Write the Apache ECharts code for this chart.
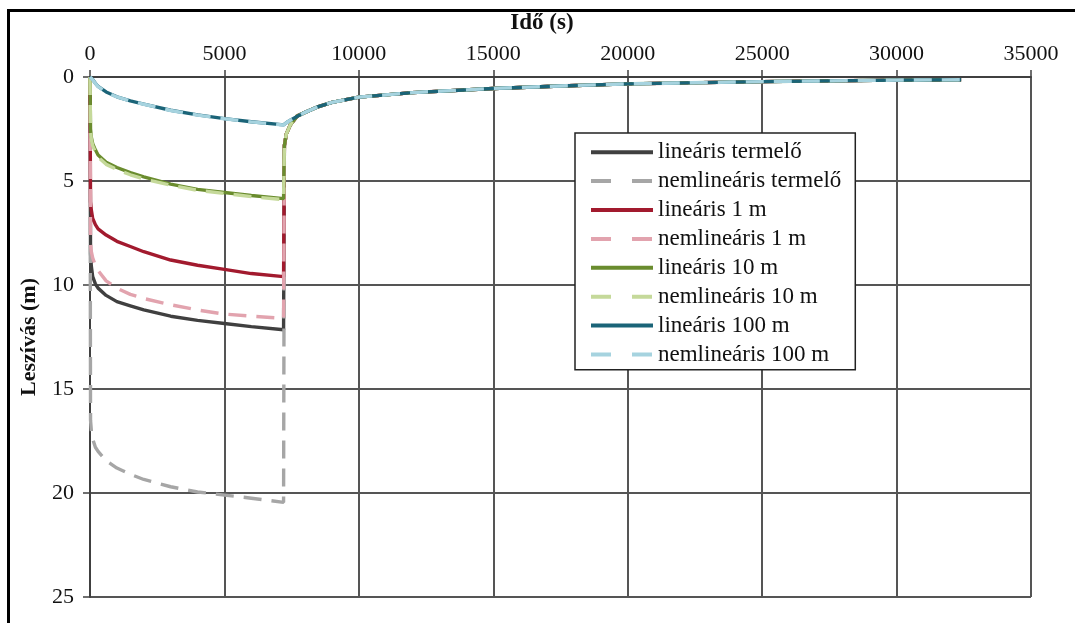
<!DOCTYPE html>
<html>
<head>
<meta charset="utf-8">
<script src="https://cdn.jsdelivr.net/npm/echarts@6/dist/echarts.min.js"></script>
<style>
html,body{margin:0;padding:0;background:#fff;}
#chart{width:1075px;height:623px;}
</style>
</head>
<body>
<div id="chart"></div>
<script>
// Time (s)
var times = [0, 20, 50, 100, 200, 300, 600, 1000, 1500, 2000, 3000, 4000, 5000, 6000, 7200,
             7230, 7300, 7450, 7700, 8000, 8500, 9000, 10000, 12000, 15000, 17500, 20000, 25000, 30000, 32400];

// Drawdown (m)
var linTermelo   = [0, 8.5, 9.1, 9.6, 9.95, 10.15, 10.5, 10.8, 11.0, 11.2, 11.5, 11.7, 11.85, 12.0, 12.15,
                    3.3, 2.75, 2.3, 1.88, 1.7, 1.42, 1.22, 0.97, 0.75, 0.55, 0.43, 0.33, 0.22, 0.15, 0.13];
var nemlinTermelo= [0, 16.5, 17.0, 17.4, 17.8, 18.0, 18.45, 18.8, 19.1, 19.35, 19.7, 19.95, 20.1, 20.25, 20.45,
                    3.3, 2.75, 2.3, 1.88, 1.7, 1.42, 1.22, 0.97, 0.75, 0.55, 0.43, 0.33, 0.22, 0.15, 0.13];
var lin1m        = [0, 6.0, 6.4, 6.8, 7.1, 7.3, 7.6, 7.9, 8.15, 8.4, 8.8, 9.05, 9.25, 9.45, 9.6,
                    3.3, 2.75, 2.3, 1.88, 1.7, 1.42, 1.22, 0.97, 0.75, 0.55, 0.43, 0.33, 0.22, 0.15, 0.13];
var nemlin1m     = [0, 8.0, 8.4, 8.7, 9.05, 9.3, 9.8, 10.15, 10.45, 10.65, 10.95, 11.2, 11.4, 11.5, 11.6,
                    3.3, 2.75, 2.3, 1.88, 1.7, 1.42, 1.22, 0.97, 0.75, 0.55, 0.43, 0.33, 0.22, 0.15, 0.13];
var lin10m       = [0, 2.5, 2.9, 3.2, 3.5, 3.75, 4.1, 4.35, 4.6, 4.8, 5.15, 5.4, 5.55, 5.7, 5.85,
                    3.3, 2.75, 2.3, 1.88, 1.7, 1.42, 1.22, 0.97, 0.75, 0.55, 0.43, 0.33, 0.22, 0.15, 0.13];
var nemlin10m    = [0, 2.6, 3.0, 3.3, 3.6, 3.85, 4.2, 4.45, 4.7, 4.9, 5.2, 5.45, 5.6, 5.75, 5.9,
                    3.3, 2.75, 2.3, 1.88, 1.7, 1.42, 1.22, 0.97, 0.75, 0.55, 0.43, 0.33, 0.22, 0.15, 0.13];
var lin100m      = [0, 0.02, 0.06, 0.12, 0.3, 0.45, 0.72, 0.95, 1.15, 1.3, 1.6, 1.82, 2.0, 2.15, 2.3,
                    2.27, 2.2, 2.08, 1.9, 1.7, 1.42, 1.22, 0.97, 0.75, 0.55, 0.43, 0.33, 0.22, 0.15, 0.13];
var nemlin100m   = [0, 0.02, 0.06, 0.13, 0.31, 0.46, 0.73, 0.96, 1.16, 1.31, 1.61, 1.83, 2.01, 2.16, 2.31,
                    2.28, 2.2, 2.08, 1.9, 1.7, 1.42, 1.22, 0.97, 0.75, 0.55, 0.43, 0.33, 0.22, 0.15, 0.13];

var seriesNames = ['lineáris termelő', 'nemlineáris termelő', 'lineáris 1 m', 'nemlineáris 1 m',
                   'lineáris 10 m', 'nemlineáris 10 m', 'lineáris 100 m', 'nemlineáris 100 m'];
var seriesValues = [linTermelo, nemlinTermelo, lin1m, nemlin1m, lin10m, nemlin10m, lin100m, nemlin100m];
var seriesColors = ['#404040', '#A6A6A6', '#A21A2E', '#E2A3AE', '#6A8C2E', '#C5D99A', '#1B6478', '#A6D3DF'];
var seriesDashed = [false, true, false, true, false, true, false, true];

var FONT = '"Liberation Serif", "Times New Roman", serif';

function pairs(vals) {
  return times.map(function (t, i) { return [t, vals[i]]; });
}

var series = seriesNames.map(function (name, i) {
  return {
    name: name,
    type: 'line',
    symbol: 'none',
    silent: true,
    animation: false,
    data: pairs(seriesValues[i]),
    lineStyle: {
      color: seriesColors[i],
      width: 3.4,
      type: seriesDashed[i] ? [18, 10] : 'solid'
    },
    itemStyle: { color: seriesColors[i] }
  };
});

var legendData = seriesNames.map(function (name, i) {
  return {
    name: name,
    itemStyle: { opacity: 0 },
    lineStyle: { width: 4, color: seriesColors[i], type: seriesDashed[i] ? [20, 21] : 'solid' }
  };
});

var chart = echarts.init(document.getElementById('chart'), null, { renderer: 'canvas' });
chart.setOption({
  animation: false,
  backgroundColor: '#ffffff',
  title: {
    text: 'Idő (s)',
    left: 542,
    top: 12,
    textAlign: 'center',
    padding: 0,
    textStyle: { fontFamily: FONT, fontSize: 23, fontWeight: 'bold', color: '#111' }
  },
  graphic: [{
    type: 'rect',
    shape: { x: 8.5, y: 10.5, width: 1100, height: 700 },
    style: { fill: 'none', stroke: '#000', lineWidth: 3 },
    silent: true,
    z: 100
  }],
  grid: { left: 90, right: 44, top: 77, bottom: 26, containLabel: false },
  legend: {
    orient: 'vertical',
    left: 575,
    top: 133,
    data: legendData,
    itemWidth: 62,
    itemHeight: 14,
    itemGap: 4.5,
    padding: [7, 14, 3, 14],
    backgroundColor: '#fff',
    borderColor: '#222',
    borderWidth: 1.5,
    borderRadius: 0,
    selectedMode: false,
    textStyle: { fontFamily: FONT, fontSize: 23, color: '#111', lineHeight: 24.4 }
  },
  xAxis: {
    type: 'value',
    position: 'top',
    min: 0,
    max: 35000,
    interval: 5000,
    axisLine: { show: true, lineStyle: { color: '#404040', width: 2 } },
    axisTick: { show: true, length: 7, lineStyle: { color: '#404040', width: 1.5 } },
    axisLabel: {
      fontFamily: FONT, fontSize: 22, color: '#111', margin: 12,
      formatter: function (v) { return String(v); }
    },
    splitLine: { show: true, lineStyle: { color: '#555', width: 2 } }
  },
  yAxis: {
    type: 'value',
    inverse: true,
    min: 0,
    max: 25,
    interval: 5,
    name: 'Leszívás (m)',
    nameLocation: 'middle',
    nameGap: 50,
    nameTextStyle: { fontFamily: FONT, fontSize: 22, fontWeight: 'bold', color: '#111' },
    axisLine: { show: true, lineStyle: { color: '#404040', width: 2 } },
    axisTick: { show: true, length: 7, lineStyle: { color: '#404040', width: 1.5 } },
    axisLabel: {
      fontFamily: FONT, fontSize: 22, color: '#111', margin: 16,
      formatter: function (v) { return String(v); }
    },
    splitLine: { show: true, lineStyle: { color: '#555', width: 2 } }
  },
  series: series
});
</script>
</body>
</html>
